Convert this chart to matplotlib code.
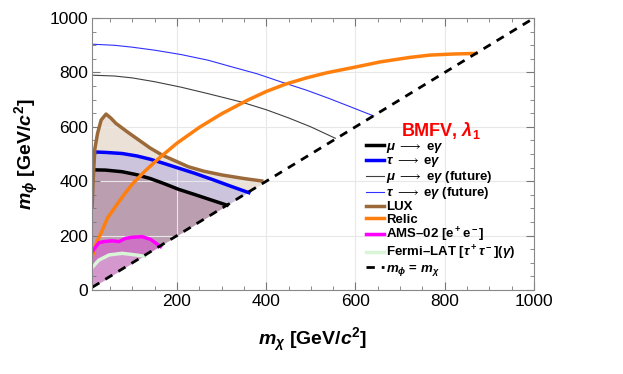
import numpy as np
import matplotlib.pyplot as plt
from matplotlib.ticker import MultipleLocator

plt.rcParams['font.family'] = ['Liberation Sans', 'DejaVu Sans']
plt.rcParams['mathtext.fontset'] = 'custom'
plt.rcParams['mathtext.it'] = 'Liberation Sans:italic:bold'
plt.rcParams['mathtext.rm'] = 'Liberation Sans:bold'
plt.rcParams['mathtext.bf'] = 'Liberation Sans:bold'

# (GeV)
mu_x = [10, 40, 77, 110, 140, 170, 204, 240, 275, 312]
mu_y = [442, 441, 435, 424, 410, 392, 370, 351, 332, 312]
tau_x = [10, 40, 77, 110, 140, 170, 204, 240, 280, 320, 361]
tau_y = [508, 506, 502, 493, 481, 466, 448, 429, 406, 382, 358]
mu_fut_x = [10, 60, 100, 150, 209, 270, 343, 400, 450, 500, 555]
mu_fut_y = [790, 787, 780, 766, 746, 722, 692, 663, 633, 600, 558]
tau_fut_x = [10, 60, 100, 150, 209, 270, 320, 380, 432, 490, 540, 590, 641]
tau_fut_y = [904, 900, 893, 882, 866, 845, 822, 795, 766, 735, 705, 673, 640]
lux_x = [10, 12, 16, 22, 30, 41, 52, 63, 90, 115, 140, 167, 200, 226, 260, 301, 350, 390]
lux_y = [309, 400, 520, 576, 625, 647, 632, 613, 580, 551, 522, 496, 472, 453, 437, 423, 410, 401]
relic_x = [10, 15, 20, 30, 44, 60, 80, 100, 130, 160, 200, 250, 300, 358, 400, 443, 490, 536,
           600, 656, 720, 767, 820, 870]
relic_y = [122, 150, 175, 210, 264, 302, 348, 390, 440, 485, 540, 598, 648, 698, 730, 757, 780,
           799, 820, 839, 855, 864, 868, 870]
ams_x = [10, 25, 36, 55, 70, 85, 100, 122, 141, 163]
ams_y = [141, 174, 178, 181, 178, 190, 194, 196, 186, 160]
fermi_x = [10, 25, 48, 77, 107, 128]
fermi_y = [83, 110, 129, 135, 129, 124]

fig = plt.figure(figsize=(6.23, 3.74), dpi=100)
ax = fig.add_axes([0.148, 0.2246, 0.709, 0.727])

c_lux = '#9c6a3a'
ax.fill_between(lux_x, lux_y, lux_x, color=c_lux, alpha=0.2, lw=0)
ax.fill_between(tau_x, tau_y, tau_x, color='#2020ff', alpha=0.15, lw=0)
ax.fill_between(mu_x, mu_y, mu_x, color='#8a3030', alpha=0.25, lw=0)
ax.fill_between(ams_x, ams_y, ams_x, color='#ff00ff', alpha=0.25, lw=0)
ax.fill_between(fermi_x, fermi_y, fermi_x, color='#f0fff0', alpha=0.25, lw=0)

ax.plot(mu_x, mu_y, color='black', lw=2.5, label=r'$\mu\;\longrightarrow\;$e$\gamma$')
ax.plot(tau_x, tau_y, color='#0000ff', lw=2.5, label=r'$\tau\;\longrightarrow\;$e$\gamma$')
ax.plot(mu_fut_x, mu_fut_y, color='#404040', lw=0.8,
        label=r'$\mu\;\longrightarrow\;$e$\gamma$ (future)')
ax.plot(tau_fut_x, tau_fut_y, color='#3030ff', lw=0.8,
        label=r'$\tau\;\longrightarrow\;$e$\gamma$ (future)')
ax.plot(lux_x, lux_y, color=c_lux, lw=2.5, label='LUX')
ax.plot(relic_x, relic_y, color='#ff7f0e', lw=2.5, label='Relic')
ax.plot(ams_x, ams_y, color='#ff00ff', lw=2.5, label='AMS–02 [e$^+$e$^-$]')
ax.plot(fermi_x, fermi_y, color='#d8f5d8', lw=2.5, label=r'Fermi–LAT [$\tau^+\tau^-$]($\gamma$)')
ax.plot([10, 1000], [10, 1000], color='black', lw=2, ls=(0, (3, 2.5)), label=r'$m_\phi$ = $m_\chi$')

ax.set_xlim(10, 1000)
ax.set_ylim(0, 1000)
ax.xaxis.set_major_locator(MultipleLocator(200))
ax.yaxis.set_major_locator(MultipleLocator(200))
ax.xaxis.set_minor_locator(MultipleLocator(50))
ax.yaxis.set_minor_locator(MultipleLocator(50))
ax.tick_params(which='both', direction='in', top=True, right=True, color='#777777',
               labelsize=12.5, pad=3)
ax.tick_params(which='major', length=6)
ax.tick_params(which='minor', length=3)
ax.set_xticks([200, 400, 600, 800, 1000])
ax.grid(True, which='major', color='#e8e8e8', lw=0.8)
for s in ax.spines.values():
    s.set_color('#888888')

ax.set_xlabel(r'$m_\chi$ [GeV/$c^2$]', fontsize=14, fontweight='bold', labelpad=12)
ax.set_ylabel(r'$m_\phi$ [GeV/$c^2$]', fontsize=14, fontweight='bold', labelpad=6)

leg = ax.legend(loc='upper left', bbox_to_anchor=(0.6, 0.66), frameon=False,
                prop={'weight': 'bold', 'size': 9.5}, handlelength=1.3, handletextpad=0.2,
                labelspacing=0.0, borderpad=0.2,
                title=r'BMFV, $\lambda_1$', title_fontproperties={'weight': 'bold', 'size': 13})
leg.get_title().set_color('red')

fig.savefig('out.png', dpi=100)
